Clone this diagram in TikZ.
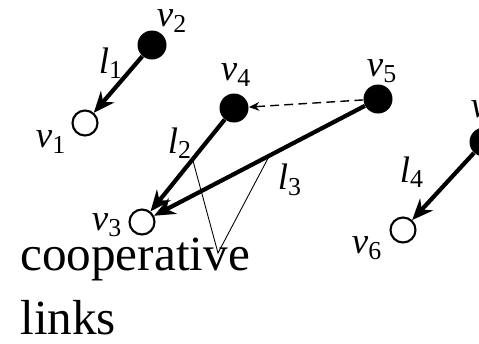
\documentclass[tikz,border=0pt]{standalone}
\usepackage{fontspec}
\setmainfont{Liberation Serif}
\usetikzlibrary{arrows.meta, calc}

\newcommand{\vlab}[1]{\textit{v}\textsubscript{#1}}
\newcommand{\llab}[1]{\textit{l}\textsubscript{#1}}

\tikzset{
  sender/.style={circle, fill=black, inner sep=0pt, minimum size=0.58cm},
  receiver/.style={circle, draw=black, fill=white, line width=1.2pt, inner sep=0pt, minimum size=0.5cm},
  link/.style={-{Stealth[length=12pt, width=10pt]}, line width=2.4pt},
  lbl/.style={inner sep=0pt, font=\fontsize{21}{24}\selectfont},
  big/.style={inner sep=0pt, anchor=base west, font=\fontsize{28}{34}\selectfont}
}

\begin{document}
\begin{tikzpicture}[x=0.02cm, y=-0.02cm]
    \useasboundingbox (0,0) rectangle (479,343);

    % nodes
    \node[sender] (v2) at (152,45) {};
    \node[receiver] (v1) at (85,123) {};
    \node[sender] (v4) at (234,108) {};
    \node[sender] (v5) at (378,99) {};
    \node[receiver] (v3) at (142,222) {};
    \node[sender] (v7) at (484,142) {};
    \node[receiver] (v6) at (403,230) {};

    % labels
    \node[lbl] (v2lab) at (172,21) {\vlab{2}};
    \node[lbl] (v1lab) at (51,142) {\vlab{1}};
    \node[lbl] (v4lab) at (236,75) {\vlab{4}};
    \node[lbl] (v5lab) at (382,71) {\vlab{5}};
    \node[lbl] (v3lab) at (107,225) {\vlab{3}};
    \node[lbl] (v6lab) at (367,248) {\vlab{6}};
    \node[lbl] (v7lab) at (486,112) {\vlab{7}};
    \node[lbl] (l1lab) at (111,63) {\llab{1}};
    \node[lbl] (l2lab) at (180,143) {\llab{2}};
    \node[lbl] (l3lab) at (290,180) {\llab{3}};
    \node[lbl] (l4lab) at (412,172) {\llab{4}};

    % links
    \draw[link] (v2) -- (v1);
    \draw[link] (v4) -- (v3);
    \draw[link] (v5) -- (v3);
    \draw[link] (v7) -- (v6);
    \draw[-{Stealth[length=6pt, width=5pt]}, line width=0.8pt, dash pattern=on 5pt off 3pt] (v5) -- (v4);

    % cooperative links
    \node[big] (coop) at (20,270) {cooperative};
    \node[big] (links) at (20,334) {links};
    \coordinate (p2) at ($(v4)!0.45!(v3)$);
    \coordinate (p3) at ($(v5)!0.46!(v3)$);
    \coordinate (tip) at (218,253);
    \draw[line width=0.5pt] (p2) -- (tip) -- (p3);
\end{tikzpicture}
\end{document}
